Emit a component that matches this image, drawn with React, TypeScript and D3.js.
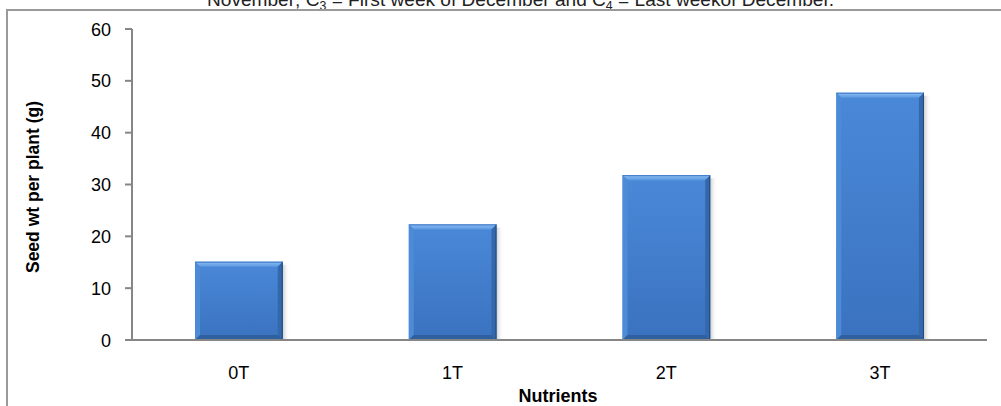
import React from "react";
import * as d3 from "d3";

const categories = ["0T", "1T", "2T", "3T"];
const seedWeight = [15.1, 22.3, 31.8, 47.7];
const yTicks = [0, 10, 20, 30, 40, 50, 60];

const W = 1001;
const H = 406;
const FONT = "Arial, 'Liberation Sans', Helvetica, sans-serif";

export default function App() {
  const x = d3.scaleBand<string>().domain(categories).range([132, 987]).paddingInner(0.59).paddingOuter(0.295);
  const y = d3.scaleLinear().domain([0, 60]).range([340, 29]);
  const bw = x.bandwidth();
  const bev = 5;

  return (
    <svg width={W} height={H} style={{ position: "absolute", left: 0, top: 0, display: "block" }} fontFamily={FONT}>
      <defs>
        <linearGradient id="barFace" x1="0" y1="0" x2="0" y2="1">
          <stop offset="0" stopColor="#4a89d8" />
          <stop offset="1" stopColor="#3a72bf" />
        </linearGradient>
        <linearGradient id="barTop" x1="0" y1="0" x2="0" y2="1">
          <stop offset="0" stopColor="#8cbdf2" />
          <stop offset="1" stopColor="#5b98e0" />
        </linearGradient>
        <linearGradient id="shadow" x1="0" y1="0" x2="1" y2="0">
          <stop offset="0" stopColor="#b8b8b8" stopOpacity="0.7" />
          <stop offset="1" stopColor="#ffffff" stopOpacity="0" />
        </linearGradient>
      </defs>
      <rect x={0} y={0} width={W} height={H} fill="#ffffff" />
      {/* caption partially cut off at top */}
      <text x={207} y={6} fontSize={18.5} fill="#222" textLength={627} lengthAdjust="spacingAndGlyphs">
        November; C<tspan fontSize={12} dy={4}>3</tspan>
        <tspan dy={-4}> = First week of December and C</tspan>
        <tspan fontSize={12} dy={4}>4</tspan>
        <tspan dy={-4}> = Last weekof December.</tspan>
      </text>
      {/* chart frame */}
      <path d={`M7,${H} V10 H${W}`} fill="none" stroke="#9a9a9a" strokeWidth={2} />

      {/* bars */}
      {categories.map((c, i) => {
        const x0 = x(c)!;
        const yt = y(seedWeight[i]);
        const y0 = y(0);
        const h = y0 - yt;
        return (
          <g key={c}>
            <rect x={x0 + bw} y={yt + 3} width={7} height={h - 3} fill="url(#shadow)" />
            <rect x={x0} y={yt} width={bw} height={h} fill="url(#barFace)" />
            <path d={`M${x0},${yt} H${x0 + bw} L${x0 + bw - bev},${yt + bev} H${x0 + bev} Z`} fill="url(#barTop)" />
            <path d={`M${x0},${yt} L${x0 + bev},${yt + bev} V${y0 - bev} L${x0},${y0} Z`} fill="#4d8bd6" />
            <path d={`M${x0 + bw},${yt} L${x0 + bw - bev},${yt + bev} V${y0 - bev} L${x0 + bw},${y0} Z`} fill="#3468ad" />
            <path d={`M${x0},${y0} L${x0 + bev},${y0 - bev} H${x0 + bw - bev} L${x0 + bw},${y0} Z`} fill="#2f5f9e" />
            <line x1={x0 + bw - 0.5} x2={x0 + bw - 0.5} y1={yt} y2={y0} stroke="#24497c" strokeWidth={1} />
            <line x1={x0} x2={x0 + bw} y1={yt + 0.5} y2={yt + 0.5} stroke="#3b78c6" strokeWidth={1} />
          </g>
        );
      })}

      {/* axes */}
      <g stroke="#868686" strokeWidth={2} fill="none">
        <line x1={132} x2={132} y1={y(60)} y2={y(0) + 1} />
        <line x1={131} x2={987} y1={y(0)} y2={y(0)} />
        {yTicks.map((t) => (
          <line key={t} x1={125} x2={132} y1={y(t)} y2={y(t)} />
        ))}
      </g>
      {yTicks.map((t) => (
        <text key={t} x={111} y={y(t) + 6.5} fontSize={18} textAnchor="end" fill="#000">
          {t}
        </text>
      ))}
      {categories.map((c) => (
        <text key={c} x={x(c)! + bw / 2} y={379} fontSize={18} textAnchor="middle" fill="#000">
          {c}
        </text>
      ))}
      <text x={558} y={402} fontSize={18} fontWeight="bold" textAnchor="middle" fill="#000">
        Nutrients
      </text>
      <text transform={`translate(39,187) rotate(-90)`} fontSize={17.5} fontWeight="bold" textAnchor="middle" fill="#000">
        Seed wt per plant (g)
      </text>
    </svg>
  );
}
